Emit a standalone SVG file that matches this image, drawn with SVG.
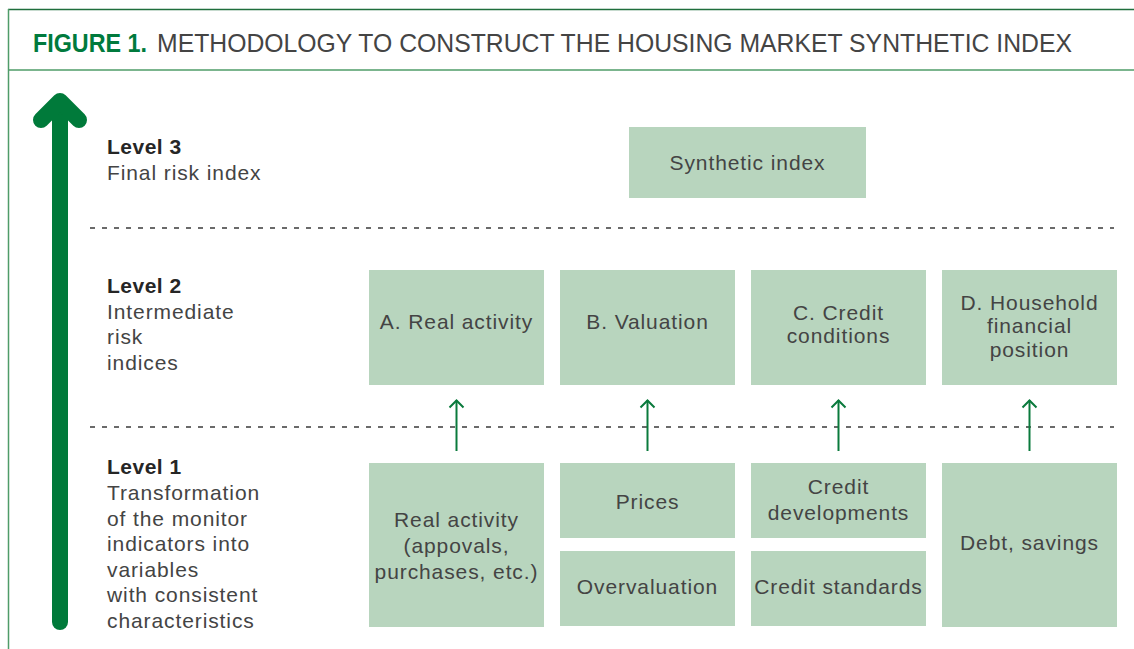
<svg xmlns="http://www.w3.org/2000/svg" width="1134" height="649" viewBox="0 0 1134 649">
  <style>
    .frame { stroke: #4f9c69; stroke-width: 1.5; fill: none; }
    .frame-top { stroke: #1f6e3c; stroke-width: 1.5; fill: none; }
    .title-bold { font-family: "Liberation Sans", Arial, sans-serif; font-weight: bold; font-size: 26px; fill: #007a3d; }
    .title { font-family: "Liberation Sans", Arial, sans-serif; font-size: 26px; fill: #444444; }
    .lvl { font-family: "Liberation Sans", Arial, sans-serif; font-weight: bold; font-size: 21px; fill: #262626; letter-spacing: 0.5px; }
    .desc { font-family: "Liberation Sans", Arial, sans-serif; font-size: 21px; fill: #444444; letter-spacing: 0.9px; }
    .box { fill: #b8d5be; }
    .label { font-family: "Liberation Sans", Arial, sans-serif; font-size: 21px; fill: #444444; letter-spacing: 0.9px; text-anchor: middle; }
    .divider { stroke: #3a3a3a; stroke-width: 1.3; stroke-dasharray: 5 7; fill: none; }
    .link { stroke: #0a7a3c; stroke-width: 2; fill: none; }
    .big-arrow { stroke: #007a3a; stroke-width: 16; stroke-linecap: round; stroke-linejoin: round; fill: none; }
  </style>

  <!-- frame and title -->
  <g id="frame">
    <line class="frame-top" x1="8" y1="9.5" x2="1134" y2="9.5"/>
    <line class="frame" x1="8" y1="70" x2="1134" y2="70"/>
    <line class="frame" x1="8.5" y1="9" x2="8.5" y2="649"/>
  </g>
  <g id="title">
    <text class="title-bold" x="33" y="52" textLength="114" lengthAdjust="spacingAndGlyphs">FIGURE 1.</text>
    <text class="title" x="157" y="52" textLength="915" lengthAdjust="spacingAndGlyphs">METHODOLOGY TO CONSTRUCT THE HOUSING MARKET SYNTHETIC INDEX</text>
  </g>

  <!-- upward level arrow -->
  <g id="level-arrow">
    <line class="big-arrow" x1="60" y1="104" x2="60" y2="622"/>
    <polyline class="big-arrow" points="41,120 60,101 79,120"/>
  </g>

  <!-- level descriptions -->
  <g id="level3-text">
    <text class="lvl" x="107" y="154">Level 3</text>
    <text class="desc" x="107" y="180">Final risk index</text>
  </g>
  <g id="level2-text">
    <text class="lvl" x="107" y="293">Level 2</text>
    <text class="desc" x="107" y="318.5">Intermediate</text>
    <text class="desc" x="107" y="344">risk</text>
    <text class="desc" x="107" y="369.5">indices</text>
  </g>
  <g id="level1-text">
    <text class="lvl" x="107" y="474">Level 1</text>
    <text class="desc" x="107" y="500">Transformation</text>
    <text class="desc" x="107" y="525.5">of the monitor</text>
    <text class="desc" x="107" y="551">indicators into</text>
    <text class="desc" x="107" y="576.5">variables</text>
    <text class="desc" x="107" y="602">with consistent</text>
    <text class="desc" x="107" y="627.5">characteristics</text>
  </g>

  <!-- dashed level separators -->
  <g id="separators">
    <line class="divider" x1="90" y1="228" x2="1114" y2="228"/>
    <line class="divider" x1="90" y1="427" x2="1114" y2="427"/>
  </g>

  <!-- level 3 -->
  <g id="synthetic-index">
    <rect class="box" x="629" y="127" width="237" height="71"/>
    <text class="label" x="747.5" y="170">Synthetic index</text>
  </g>

  <!-- level 2 -->
  <g id="real-activity-index">
    <rect class="box" x="369" y="270" width="175" height="115"/>
    <text class="label" x="456.5" y="329">A. Real activity</text>
  </g>
  <g id="valuation-index">
    <rect class="box" x="560" y="270" width="175" height="115"/>
    <text class="label" x="647.5" y="329">B. Valuation</text>
  </g>
  <g id="credit-conditions-index">
    <rect class="box" x="751" y="270" width="175" height="115"/>
    <text class="label" x="838.5" y="320">C. Credit</text>
    <text class="label" x="838.5" y="343">conditions</text>
  </g>
  <g id="household-index">
    <rect class="box" x="942" y="270" width="175" height="115"/>
    <text class="label" x="1029.5" y="310">D. Household</text>
    <text class="label" x="1029.5" y="333">financial</text>
    <text class="label" x="1029.5" y="357">position</text>
  </g>

  <!-- level 1 -->
  <g id="real-activity-vars">
    <rect class="box" x="369" y="463" width="175" height="164"/>
    <text class="label" x="456.5" y="527">Real activity</text>
    <text class="label" x="456.5" y="553">(appovals,</text>
    <text class="label" x="456.5" y="579">purchases, etc.)</text>
  </g>
  <g id="prices">
    <rect class="box" x="560" y="463" width="175" height="75"/>
    <text class="label" x="647.5" y="508.5">Prices</text>
  </g>
  <g id="overvaluation">
    <rect class="box" x="560" y="551" width="175" height="75"/>
    <text class="label" x="647.5" y="594">Overvaluation</text>
  </g>
  <g id="credit-developments">
    <rect class="box" x="751" y="463" width="175" height="75"/>
    <text class="label" x="838.5" y="494">Credit</text>
    <text class="label" x="838.5" y="519.5">developments</text>
  </g>
  <g id="credit-standards">
    <rect class="box" x="751" y="551" width="175" height="75"/>
    <text class="label" x="838.5" y="594">Credit standards</text>
  </g>
  <g id="debt-savings">
    <rect class="box" x="942" y="463" width="175" height="164"/>
    <text class="label" x="1029.5" y="550">Debt, savings</text>
  </g>

  <!-- aggregation connectors -->
  <g id="connectors">
    <line class="link" x1="456.5" y1="451" x2="456.5" y2="400"/>
    <polyline class="link" points="449.5,407.5 456.5,400.5 463.5,407.5"/>
    <line class="link" x1="647.5" y1="451" x2="647.5" y2="400"/>
    <polyline class="link" points="640.5,407.5 647.5,400.5 654.5,407.5"/>
    <line class="link" x1="838.5" y1="451" x2="838.5" y2="400"/>
    <polyline class="link" points="831.5,407.5 838.5,400.5 845.5,407.5"/>
    <line class="link" x1="1029.5" y1="451" x2="1029.5" y2="400"/>
    <polyline class="link" points="1022.5,407.5 1029.5,400.5 1036.5,407.5"/>
  </g>
</svg>
